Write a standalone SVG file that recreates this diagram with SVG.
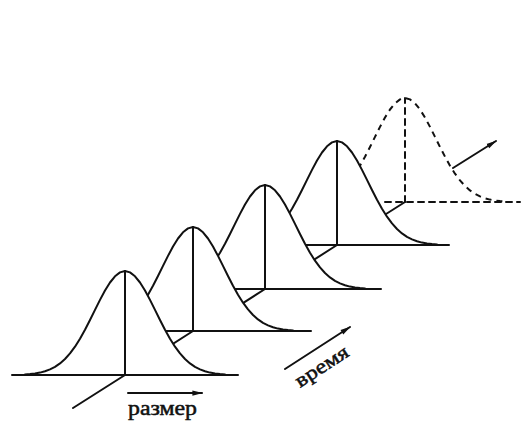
<svg xmlns="http://www.w3.org/2000/svg" xmlns:xlink="http://www.w3.org/1999/xlink" width="528" height="421" viewBox="0 0 528 421">
<style>
.ln{stroke:#111;stroke-width:2;fill:none;stroke-linecap:round}
.cv{stroke:#111;stroke-width:2;fill:#fff;stroke-linejoin:round}
.dash{stroke-dasharray:6 5}
.lbl{font-family:"Liberation Serif","DejaVu Serif",serif;font-size:20px;fill:#111;stroke:#111;stroke-width:0.5}
</style>
<defs>
<path id="g" d="M-100,0 L-100,-0.6 L-95,-0.95 L-90,-1.5 L-85,-2.4 L-80,-3.7 L-75,-5.6 L-70,-8.2 L-65,-11.6 L-60,-16 L-55,-21.6 L-50,-28.3 L-45,-36.3 L-40,-45.3 L-35,-55 L-30,-65.1 L-25,-75.1 L-20,-84.5 L-15,-92.5 L-10,-98.7 L-5,-102.6 L0,-104 L5,-102.6 L10,-98.7 L15,-92.5 L20,-84.5 L25,-75.1 L30,-65.1 L35,-55 L40,-45.3 L45,-36.3 L50,-28.3 L55,-21.6 L60,-16 L65,-11.6 L70,-8.2 L75,-5.6 L80,-3.7 L85,-2.4 L90,-1.5 L95,-0.95 L100,-0.6 L100,0"/>
<marker id="ah" viewBox="0 0 12 8" refX="11" refY="4" markerWidth="11" markerHeight="7" markerUnits="userSpaceOnUse" orient="auto">
<path d="M0,1 L12,4 L0,7 z" fill="#111"/>
</marker>
</defs>

<g id="curve5" transform="translate(405,202)">
<use xlink:href="#g" class="cv dash"/>
<line class="ln dash" x1="-20" y1="0" x2="115" y2="0"/>
<line class="ln dash" x1="0" y1="0" x2="0" y2="-104"/>
<line class="ln" x1="0" y1="0" x2="-30" y2="19"/>
</g>

<g id="curve4" transform="translate(337,245)">
<use xlink:href="#g" class="cv"/>
<line class="ln" x1="-60" y1="0" x2="112" y2="0"/>
<line class="ln" x1="0" y1="0" x2="0" y2="-104"/>
<line class="ln" x1="0" y1="0" x2="-40" y2="25.6"/>
</g>

<g id="curve3" transform="translate(265,289)">
<use xlink:href="#g" class="cv"/>
<line class="ln" x1="-60" y1="0" x2="116" y2="0"/>
<line class="ln" x1="0" y1="0" x2="0" y2="-104"/>
<line class="ln" x1="0" y1="0" x2="-40" y2="25.6"/>
</g>

<g id="curve2" transform="translate(193,331)">
<use xlink:href="#g" class="cv"/>
<line class="ln" x1="-60" y1="0" x2="118" y2="0"/>
<line class="ln" x1="0" y1="0" x2="0" y2="-104"/>
<line class="ln" x1="0" y1="0" x2="-40" y2="25.6"/>
</g>

<g id="curve1" transform="translate(125,375)">
<use xlink:href="#g" class="cv"/>
<line class="ln" x1="-113" y1="0" x2="113" y2="0"/>
<line class="ln" x1="0" y1="0" x2="0" y2="-104"/>
<line class="ln" x1="0" y1="0" x2="-52" y2="33"/>
</g>

<g id="connectors">
<line class="ln" x1="128" y1="393" x2="202" y2="393" marker-end="url(#ah)"/>
<line class="ln" x1="285" y1="369" x2="350" y2="327" marker-end="url(#ah)"/>
<line class="ln" x1="453" y1="168" x2="496" y2="141" marker-end="url(#ah)"/>
</g>

<g id="labels">
<text class="lbl" x="128" y="415" textLength="69" lengthAdjust="spacingAndGlyphs">размер</text>
<text class="lbl" x="0" y="0" textLength="60" lengthAdjust="spacingAndGlyphs" transform="translate(300,388) rotate(-33)">время</text>
</g>
</svg>
